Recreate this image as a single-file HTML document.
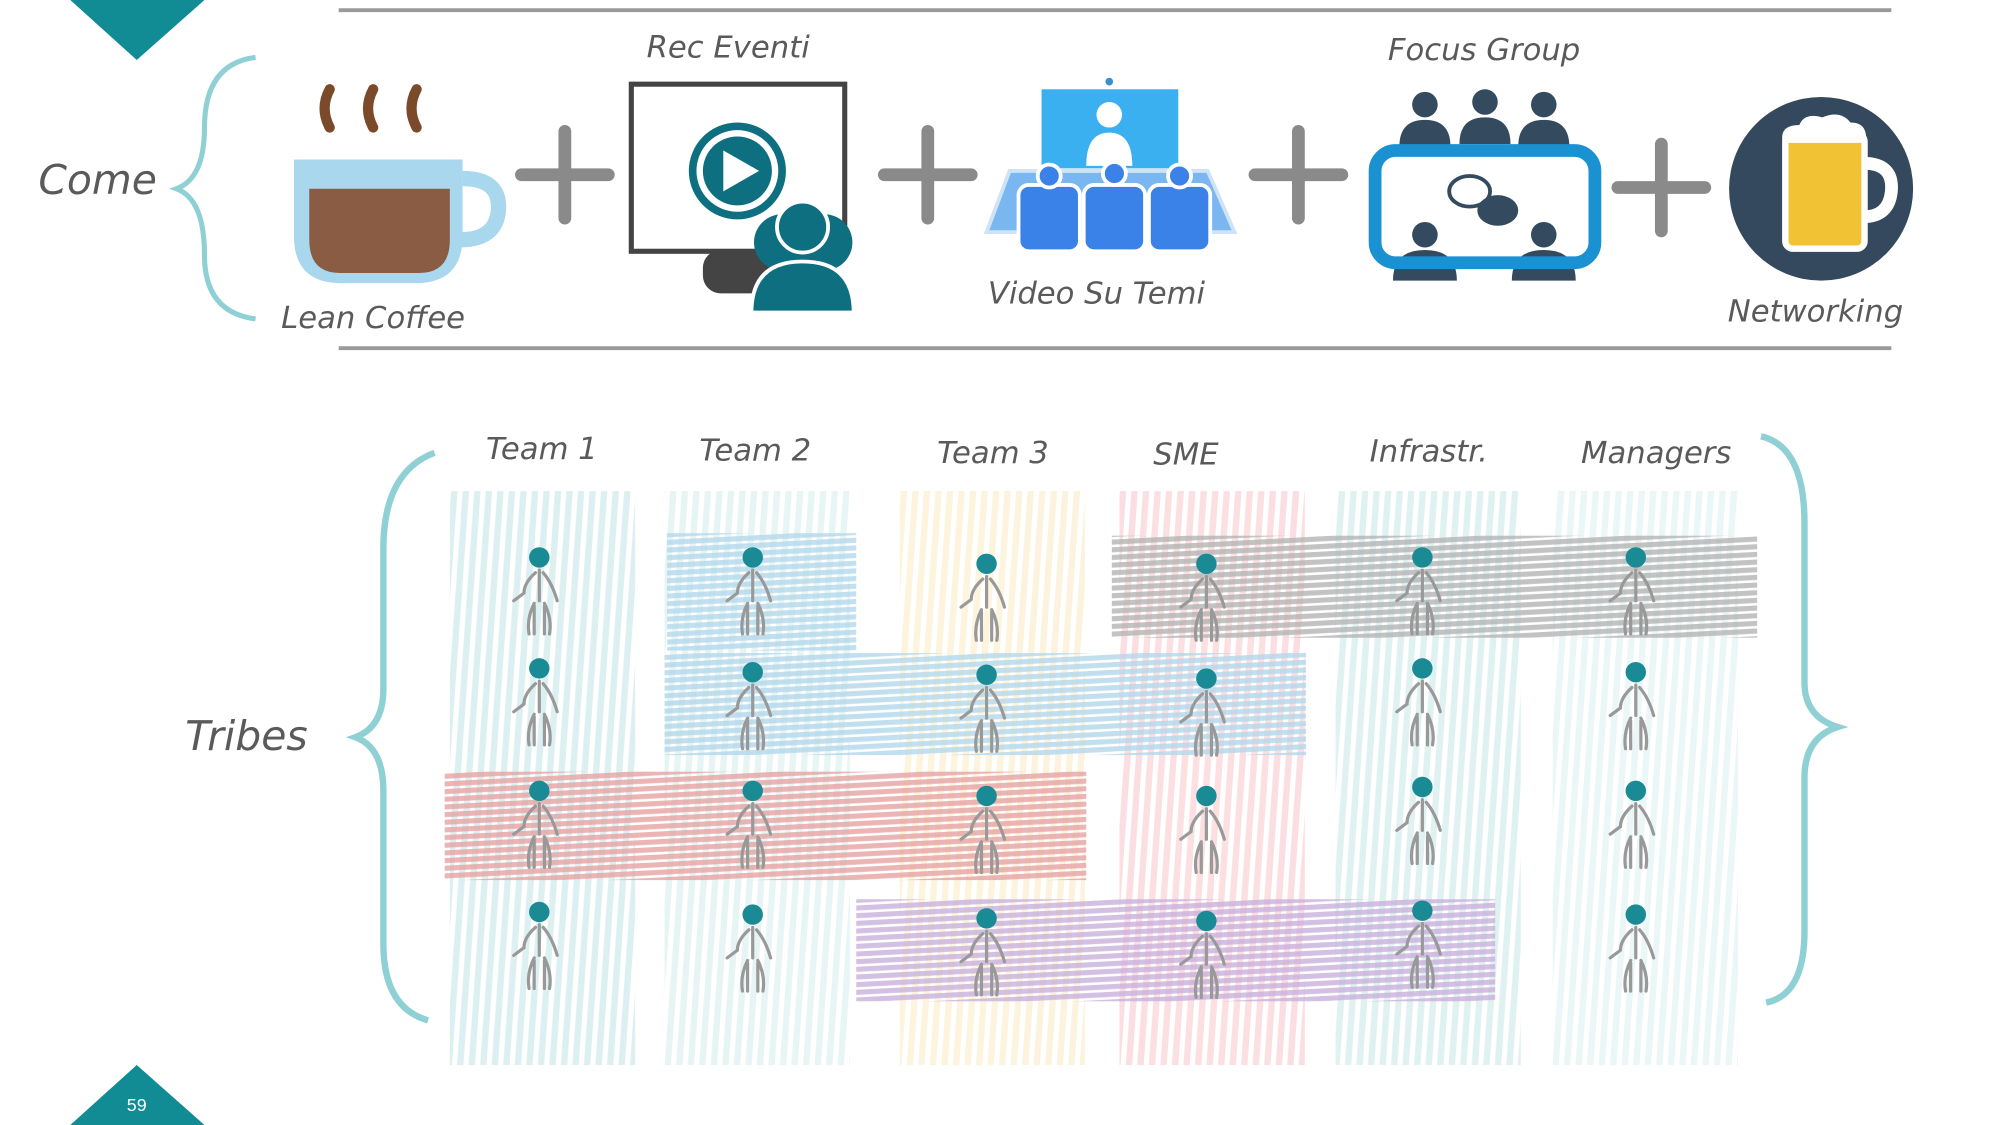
<!DOCTYPE html>
<html><head><meta charset="utf-8"><style>
html,body{margin:0;padding:0;background:#fff;}
svg{display:block;}
text{font-family:"DejaVu Sans","Liberation Sans",sans-serif;fill:#5a5a5a;}
</style></head><body>
<svg width="2000" height="1125" viewBox="0 0 1565 882" preserveAspectRatio="none" xmlns="http://www.w3.org/2000/svg">
<defs>
<pattern id="v1" width="9" height="40" patternUnits="userSpaceOnUse" patternTransform="rotate(4)"><rect x="1" y="0" width="5" height="40" fill="#d4ecee"/></pattern>
<pattern id="v2" width="9" height="40" patternUnits="userSpaceOnUse" patternTransform="rotate(4)"><rect x="1" y="0" width="5" height="40" fill="#e2f2f2"/></pattern>
<pattern id="v3" width="9" height="40" patternUnits="userSpaceOnUse" patternTransform="rotate(4)"><rect x="1" y="0" width="5" height="40" fill="#fcf1d6"/></pattern>
<pattern id="v4" width="9" height="40" patternUnits="userSpaceOnUse" patternTransform="rotate(4)"><rect x="1" y="0" width="5" height="40" fill="#fad7da"/></pattern>
<pattern id="v5" width="9" height="40" patternUnits="userSpaceOnUse" patternTransform="rotate(4)"><rect x="1" y="0" width="5" height="40" fill="#d8eeee"/></pattern>
<pattern id="v6" width="9" height="40" patternUnits="userSpaceOnUse" patternTransform="rotate(4)"><rect x="1" y="0" width="5" height="40" fill="#e6f4f4"/></pattern>
<pattern id="hb" width="40" height="6" patternUnits="userSpaceOnUse" patternTransform="rotate(-3)"><rect width="40" height="4" fill="#b3d8ec"/></pattern>
<pattern id="hg" width="40" height="6" patternUnits="userSpaceOnUse" patternTransform="rotate(-3)"><rect width="40" height="4" fill="#b4b4b4"/></pattern>
<pattern id="hr" width="40" height="6" patternUnits="userSpaceOnUse" patternTransform="rotate(-3)"><rect width="40" height="4" fill="#e6a3a3"/></pattern>
<pattern id="hp" width="40" height="6" patternUnits="userSpaceOnUse" patternTransform="rotate(-3)"><rect width="40" height="4" fill="#c9b0dc"/></pattern>
<g id="man">
<circle cx="0" cy="-28" r="8" fill="#1a8a94"/>
<path d="M0 -18 V6 M-3 -16 Q-12 -8 -12 0 L-20 6 M3 -16 Q10 -8 14 6 M-4 8 Q-10 20 -8 32 M-4 10 V32 M4 8 Q10 20 8 32 M4 10 V32" stroke="#999" stroke-width="2.5" fill="none" stroke-linecap="round"/>
</g>
</defs>

<polygon points="55,0 160,0 107,47" fill="#118b94"/>
<polygon points="55,882 160,882 107,835" fill="#118b94"/>
<text x="107" y="871" text-anchor="middle" font-size="14" style="fill:#fff;font-family:'Liberation Sans',sans-serif">59</text>

<line x1="265" y1="8" x2="1480" y2="8" stroke="#9a9a9a" stroke-width="3"/>
<line x1="265" y1="273" x2="1480" y2="273" stroke="#9a9a9a" stroke-width="3"/>

<text x="30" y="152" font-size="32" font-style="italic">Come</text>
<path d="M200 45 Q160 50 160 100 Q160 140 138 148 Q160 156 160 200 Q160 245 200 250" stroke="#8fd0d4" stroke-width="4" fill="none"/>

<path d="M258 100 Q250 85 258 70 M292 100 Q284 85 292 70 M326 100 Q318 85 326 70" stroke="#7a4a2a" stroke-width="8" fill="none" stroke-linecap="round"/>
<path d="M230 125 H362 V185 Q362 222 325 222 H267 Q230 222 230 185 Z" fill="#a9d8ee"/>
<path d="M362 140 Q392 140 390 165 Q388 188 360 188" stroke="#a9d8ee" stroke-width="12" fill="none"/>
<path d="M242 148 H352 V188 Q352 214 328 214 H266 Q242 214 242 188 Z" fill="#8a5c43"/>
<text x="220" y="257" font-size="24" font-style="italic">Lean Coffee</text>

<g stroke="#8a8a8a" stroke-width="10" stroke-linecap="round">
<path d="M408 137 H476 M442 103 V171"/>
<path d="M692 137 H760 M726 103 V171"/>
<path d="M982 137 H1050 M1016 103 V171"/>
<path d="M1266 147 H1334 M1300 113 V181"/>
</g>

<text x="506" y="45" font-size="24" font-style="italic">Rec Eventi</text>
<rect x="494" y="66" width="167" height="131" fill="#fff" stroke="#444" stroke-width="4"/>
<circle cx="577" cy="134" r="35" fill="none" stroke="#0e6f80" stroke-width="6"/>
<circle cx="577" cy="134" r="27" fill="#0e6f80"/>
<polygon points="566,118 566,150 594,134" fill="#fff"/>
<rect x="550" y="196" width="60" height="34" rx="14" fill="#444"/>
<circle cx="612" cy="190" r="22" fill="#0e6f80"/><circle cx="645" cy="190" r="22" fill="#0e6f80"/>
<circle cx="628" cy="178" r="20" fill="#0e6f80" stroke="#fff" stroke-width="3"/>
<path d="M588 245 Q588 205 628 205 Q668 205 668 245 Z" fill="#0e6f80" stroke="#fff" stroke-width="3"/>

<circle cx="868" cy="64" r="3" fill="#3a8fd0"/>
<rect x="815" y="70" width="107" height="62" fill="#3ab0f0"/>
<circle cx="868" cy="90" r="10" fill="#fff"/><path d="M850 130 Q850 104 868 104 Q886 104 886 130Z" fill="#fff"/>
<polygon points="790,134 945,134 966,182 772,182" fill="#7ab6f0" stroke="#cfe3f7" stroke-width="3"/>
<g fill="#3a82e8" stroke="#fff" stroke-width="3">
<rect x="797" y="145" width="48" height="52" rx="8"/><rect x="848" y="145" width="48" height="52" rx="8"/><rect x="899" y="145" width="48" height="52" rx="8"/>
<circle cx="821" cy="138" r="9"/><circle cx="872" cy="136" r="9"/><circle cx="923" cy="138" r="9"/>
</g>
<text x="773" y="238" font-size="24" font-style="italic">Video Su Temi</text>

<text x="1086" y="47" font-size="24" font-style="italic">Focus Group</text>
<g fill="#344a5e">
<circle cx="1115" cy="82" r="10"/><circle cx="1162" cy="80" r="10"/><circle cx="1208" cy="82" r="10"/>
<path d="M1095 115 Q1095 94 1115 94 Q1135 94 1135 115Z"/><path d="M1142 113 Q1142 92 1162 92 Q1182 92 1182 113Z"/><path d="M1188 115 Q1188 94 1208 94 Q1228 94 1228 115Z"/>
<circle cx="1115" cy="184" r="10"/><circle cx="1208" cy="184" r="10"/>
<path d="M1090 220 Q1090 196 1115 196 Q1140 196 1140 220Z"/><path d="M1183 220 Q1183 196 1208 196 Q1233 196 1233 220Z"/>
</g>
<rect x="1076" y="118" width="172" height="88" rx="16" fill="none" stroke="#1a92d2" stroke-width="10"/>
<ellipse cx="1150" cy="150" rx="16" ry="12" fill="none" stroke="#344a5e" stroke-width="3"/>
<ellipse cx="1172" cy="165" rx="16" ry="12" fill="#344a5e"/>

<circle cx="1425" cy="148" r="72" fill="#34495e"/>
<path d="M1458 128 Q1482 128 1480 150 Q1478 170 1458 170" stroke="#fff" stroke-width="10" fill="none"/>
<rect x="1397" y="105" width="62" height="90" rx="6" fill="#f1c233" stroke="#fff" stroke-width="5"/>
<path d="M1395 112 Q1392 98 1408 98 Q1412 88 1426 92 Q1440 86 1448 96 Q1462 96 1460 112 Z" fill="#fff"/>
<text x="1352" y="252" font-size="24" font-style="italic">Networking</text>

<text x="145" y="588" font-size="32" font-style="italic">Tribes</text>
<path d="M340 355 Q300 370 300 430 L300 540 Q300 570 278 578 Q300 586 300 620 L300 740 Q300 790 335 800" stroke="#8fd0d4" stroke-width="5" fill="none"/>
<path d="M1378 342 Q1412 350 1412 410 L1412 535 Q1412 562 1438 570 Q1412 578 1412 610 L1412 730 Q1412 780 1382 786" stroke="#8fd0d4" stroke-width="5" fill="none"/>

<g font-size="24" font-style="italic" text-anchor="middle">
<text x="424" y="360">Team 1</text><text x="591" y="361">Team 2</text><text x="777" y="363">Team 3</text>
<text x="928" y="364">SME</text><text x="1118" y="362">Infrastr.</text><text x="1296" y="363">Managers</text>
</g>

<g opacity="0.8">
<rect x="352" y="385" width="145" height="450" fill="url(#v1)"/>
<rect x="520" y="385" width="145" height="450" fill="url(#v2)"/>
<rect x="704" y="385" width="145" height="450" fill="url(#v3)"/>
<rect x="876" y="385" width="145" height="450" fill="url(#v4)"/>
<rect x="1045" y="385" width="145" height="450" fill="url(#v5)"/>
<rect x="1215" y="385" width="145" height="450" fill="url(#v6)"/>
</g>
<g opacity="0.8">
<rect x="522" y="418" width="148" height="92" fill="url(#hb)"/>
<rect x="870" y="420" width="505" height="80" fill="url(#hg)"/>
<rect x="520" y="512" width="502" height="80" fill="url(#hb)"/>
<rect x="348" y="605" width="502" height="85" fill="url(#hr)"/>
<rect x="670" y="705" width="500" height="80" fill="url(#hp)"/>
</g>

<g>
<use href="#man" x="422" y="465"/><use href="#man" x="589" y="465"/><use href="#man" x="772" y="470"/><use href="#man" x="944" y="470"/><use href="#man" x="1113" y="465"/><use href="#man" x="1280" y="465"/>
<use href="#man" x="422" y="552"/><use href="#man" x="589" y="555"/><use href="#man" x="772" y="557"/><use href="#man" x="944" y="560"/><use href="#man" x="1113" y="552"/><use href="#man" x="1280" y="555"/>
<use href="#man" x="422" y="648"/><use href="#man" x="589" y="648"/><use href="#man" x="772" y="652"/><use href="#man" x="944" y="652"/><use href="#man" x="1113" y="645"/><use href="#man" x="1280" y="648"/>
<use href="#man" x="422" y="743"/><use href="#man" x="589" y="745"/><use href="#man" x="772" y="748"/><use href="#man" x="944" y="750"/><use href="#man" x="1113" y="742"/><use href="#man" x="1280" y="745"/>
</g>
</svg>
</body></html>
